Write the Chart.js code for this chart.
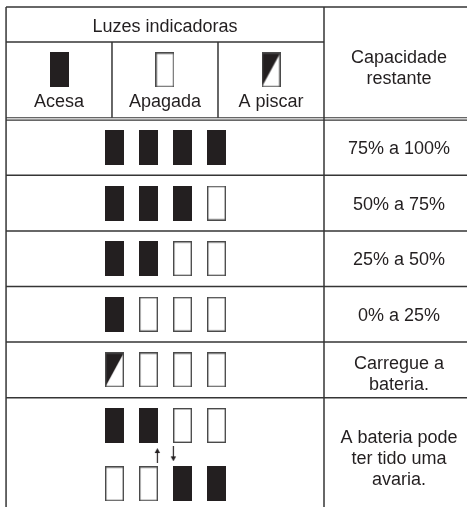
<!DOCTYPE html>
<html>
<head>
<meta charset="utf-8">
<script src="https://cdn.jsdelivr.net/npm/chart.js@4.4.1/dist/chart.umd.min.js"></script>
<style>
  html, body { margin: 0; padding: 0; background: #fff; }
  #wrap { width: 467px; height: 507px; position: relative; }
</style>
</head>
<body>
<div id="wrap"><canvas id="chart"></canvas></div>
<script>
// --- data -------------------------------------------------------------
const headerTitle = 'Luzes indicadoras';
const capacityTitle = ['Capacidade', 'restante'];
const legendStates = ['on', 'off', 'blink'];
const legendLabels = ['Acesa', 'Apagada', 'A piscar'];

// one entry per row of lights, 4 lights each
const lampStates = [
  ['on', 'on', 'on', 'on'],
  ['on', 'on', 'on', 'off'],
  ['on', 'on', 'off', 'off'],
  ['on', 'off', 'off', 'off'],
  ['blink', 'off', 'off', 'off'],
  ['on', 'on', 'off', 'off'],
  ['off', 'off', 'on', 'on']
];
const lampRowY = [0, 1, 2, 3, 4, 5, 6.05];

const capacityLabels = [
  ['75% a 100%'],
  ['50% a 75%'],
  ['25% a 50%'],
  ['0% a 25%'],
  ['Carregue a', 'bateria.'],
  ['A bateria pode', 'ter tido uma', 'avaria.']
];

const arrowX = [1.26, 1.73];
const arrowY = [5.54, 5.51];
const arrowDirs = ['up', 'down'];

// --- layout (scale units: 1 x = one light, 1 y = one row) ---------------
const X_MIN = -3.368, X_MAX = 10.368;
const Y_MIN = -2.653, Y_MAX = 6.466;
const colEdges = [-3.19, -0.074, 3.044, 6.162];
const headerTop = -2.527, headerMid = -1.897;
const headerBot = [-0.535, -0.492];
const rowLines = [0.5, 1.5, 2.5, 3.5, 4.5];
const legendIconY = -1.394, legendLabelY = -0.854;
const labelCenters = [0, 1, 2, 3, 4.05, 5.58];
const capTitleCenter = -1.44;

const INK = '#231f20';
const LINE = '#353535';
const FONT = '18px "Liberation Sans", Arial, sans-serif';
const LINE_H = 21;

// light symbols used as point styles
function makeLamp(state) {
  const c = document.createElement('canvas');
  c.width = 19; c.height = 35;
  const g = c.getContext('2d');
  const w = c.width, h = c.height;
  if (state === 'on') {
    g.fillStyle = INK;
    g.fillRect(0, 0, w, h);
  } else {
    g.fillStyle = '#fff';
    g.fillRect(0, 0, w, h);
    if (state === 'blink') {
      g.fillStyle = INK;
      g.beginPath();
      g.moveTo(0, 0); g.lineTo(w, 0); g.lineTo(0, h); g.closePath();
      g.fill();
    }
    g.strokeStyle = '#4a4a4a';
    g.lineWidth = 1.4;
    g.strokeRect(0.7, 0.7, w - 1.4, h - 1.4);
  }
  return c;
}

function makeArrow(dir) {
  const c = document.createElement('canvas');
  c.width = 7; c.height = 15;
  const g = c.getContext('2d');
  g.fillStyle = INK;
  g.strokeStyle = INK;
  g.lineWidth = 1.2;
  g.beginPath();
  if (dir === 'up') {
    g.moveTo(3.5, 3); g.lineTo(3.5, 15);
    g.stroke();
    g.beginPath();
    g.moveTo(0.8, 5); g.lineTo(3.5, 0); g.lineTo(6.2, 5); g.closePath();
  } else {
    g.moveTo(3.5, 0); g.lineTo(3.5, 12);
    g.stroke();
    g.beginPath();
    g.moveTo(0.8, 10); g.lineTo(3.5, 15); g.lineTo(6.2, 10); g.closePath();
  }
  g.fill();
  return c;
}

const lampImages = { on: makeLamp('on'), off: makeLamp('off'), blink: makeLamp('blink') };
const arrowImages = { up: makeArrow('up'), down: makeArrow('down') };

const lampPoints = [];
lampStates.forEach((row, r) => {
  row.forEach((s, i) => lampPoints.push({ x: i, y: lampRowY[r], s: s }));
});
const legendPoints = legendStates.map((s, i) => ({
  x: (colEdges[i] + colEdges[i + 1]) / 2, y: legendIconY, s: s
}));
const arrowPoints = arrowDirs.map((d, i) => ({ x: arrowX[i], y: arrowY[i], d: d }));

const lampStyle = ctx => (ctx.raw ? lampImages[ctx.raw.s] : 'rect');

// table lines and texts
const tablePlugin = {
  id: 'tableGrid',
  beforeDatasetsDraw(chart) {
    const { ctx, scales: { x, y } } = chart;
    const X = v => x.getPixelForValue(v);
    const Y = v => y.getPixelForValue(v);
    const right = X(X_MAX + 1);
    const bottom = Y(Y_MAX + 1);

    const seg = (x1, y1, x2, y2) => {
      ctx.beginPath();
      ctx.moveTo(x1, y1);
      ctx.lineTo(x2, y2);
      ctx.stroke();
    };

    ctx.save();
    ctx.strokeStyle = LINE;
    ctx.lineWidth = 1.5;
    // outer / main lines
    seg(X(colEdges[0]), Y(headerTop), right, Y(headerTop));
    seg(X(colEdges[0]), Y(headerTop), X(colEdges[0]), bottom);
    seg(X(colEdges[3]), Y(headerTop), X(colEdges[3]), bottom);
    seg(X(colEdges[0]), Y(headerMid), X(colEdges[3]), Y(headerMid));
    seg(X(colEdges[1]), Y(headerMid), X(colEdges[1]), Y(headerBot[0]));
    seg(X(colEdges[2]), Y(headerMid), X(colEdges[2]), Y(headerBot[0]));
    // double line under header
    ctx.lineWidth = 1.1;
    headerBot.forEach(v => seg(X(colEdges[0]), Y(v), right, Y(v)));
    ctx.lineWidth = 1.5;
    rowLines.forEach(v => seg(X(colEdges[0]), Y(v), right, Y(v)));

    // texts
    ctx.fillStyle = INK;
    ctx.font = FONT;
    ctx.textAlign = 'center';
    ctx.textBaseline = 'alphabetic';
    const lines = (arr, cx, cy) => {
      arr.forEach((t, i) => {
        const yy = cy + (i - (arr.length - 1) / 2) * LINE_H;
        ctx.fillText(t, cx, yy + 6.5);
      });
    };
    const textX = X((colEdges[3] + 10.574) / 2);
    lines([headerTitle], X((colEdges[0] + colEdges[3]) / 2), Y((headerTop + headerMid) / 2) + 1);
    lines(capacityTitle, textX, Y(capTitleCenter));
    legendLabels.forEach((t, i) => {
      lines([t], X((colEdges[i] + colEdges[i + 1]) / 2), Y(legendLabelY));
    });
    capacityLabels.forEach((arr, r) => lines(arr, textX, Y(labelCenters[r])));
    ctx.restore();
  }
};

new Chart(document.getElementById('chart'), {
  type: 'scatter',
  data: {
    datasets: [
      { label: 'luzes', data: lampPoints, pointStyle: lampStyle, pointRadius: 10 },
      { label: 'legenda', data: legendPoints, pointStyle: lampStyle, pointRadius: 10 },
      {
        label: 'setas',
        data: arrowPoints,
        pointStyle: ctx => (ctx.raw ? arrowImages[ctx.raw.d] : 'line'),
        pointRadius: 6
      }
    ]
  },
  options: {
    responsive: true,
    maintainAspectRatio: false,
    animation: false,
    events: [],
    layout: { padding: 0, autoPadding: false },
    plugins: {
      legend: { display: false },
      tooltip: { enabled: false }
    },
    scales: {
      x: { type: 'linear', min: X_MIN, max: X_MAX, display: false },
      y: { type: 'linear', min: Y_MIN, max: Y_MAX, reverse: true, display: false }
    }
  },
  plugins: [tablePlugin]
});
</script>
</body>
</html>
